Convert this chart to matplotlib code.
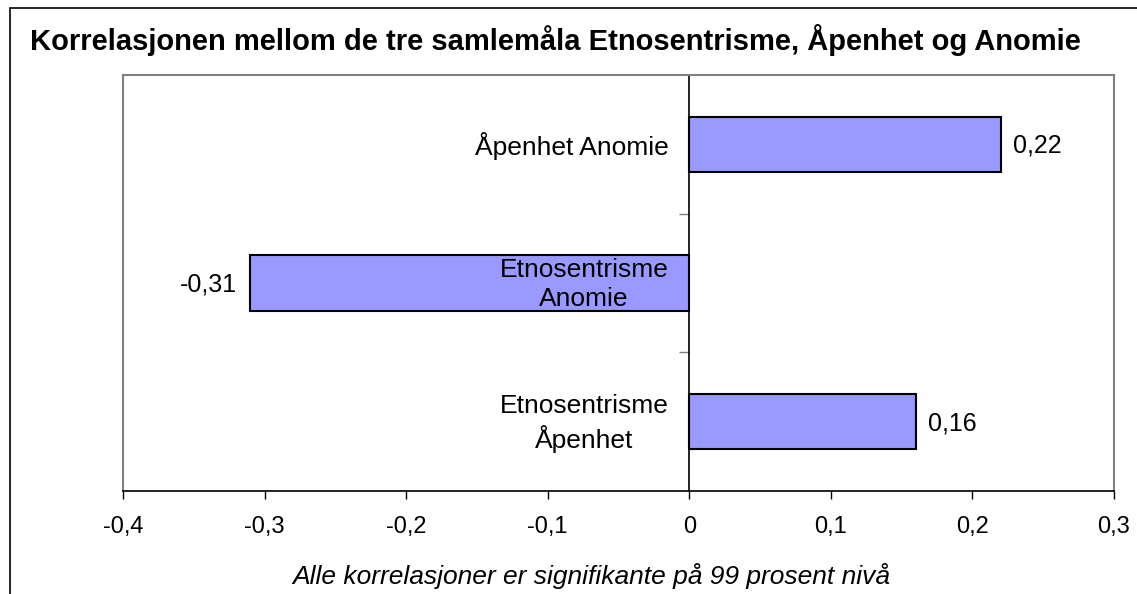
import matplotlib
matplotlib.use('Agg')
import matplotlib.pyplot as plt
from matplotlib.patches import Rectangle

plt.rcParams['font.family'] = ['Liberation Sans', 'DejaVu Sans']

# data (bottom to top)
categories = ['Etnosentrisme\nÅpenhet', 'Etnosentrisme\nAnomie', 'Åpenhet Anomie']
values = [0.16, -0.31, 0.22]
value_labels = ['0,16', '-0,31', '0,22']
xticks = [-0.4, -0.3, -0.2, -0.1, 0, 0.1, 0.2, 0.3]
xtick_labels = ['-0,4', '-0,3', '-0,2', '-0,1', '0', '0,1', '0,2', '0,3']

W, H = 1137, 594
fig = plt.figure(figsize=(W / 100, H / 100), dpi=100)

# outer frame of the chart area
fig.patches.append(Rectangle((10 / W, -0.1), 1.2, (H - 8) / H + 0.1, transform=fig.transFigure,
                             fill=False, edgecolor='black', linewidth=1.2))

fig.text(30 / W, 1 - 40 / H, 'Korrelasjonen mellom de tre samlemåla Etnosentrisme, Åpenhet og Anomie',
         fontsize=21, fontweight='bold', va='center', ha='left')

left, right, top, bottom = 123, 1114, 75, 491
ax = fig.add_axes([left / W, 1 - bottom / H, (right - left) / W, (bottom - top) / H])

y = range(len(categories))
ax.barh(y, values, height=0.4, color='#9999FF', edgecolor='black', linewidth=1.5, zorder=3)

ax.set_xlim(-0.4, 0.3)
ax.set_ylim(-0.5, 2.5)
ax.set_xticks(xticks)
ax.set_xticklabels(xtick_labels, fontsize=17)
ax.tick_params(axis='x', length=6, width=1, pad=12, color='black')

# vertical axis at zero
ax.spines['left'].set_position(('data', 0))
ax.spines['left'].set_color('black')
ax.spines['left'].set_linewidth(1.2)
ax.set_yticks([0.5, 1.5])
ax.set_yticklabels([])
ax.tick_params(axis='y', length=7, width=1, color='#808080')
for s in ['top', 'right']:
    ax.spines[s].set_color('#808080')
    ax.spines[s].set_linewidth(1.5)
ax.spines['bottom'].set_color('black')
ax.spines['bottom'].set_linewidth(1.2)
ax.plot([0, 0], [0, 1], transform=ax.transAxes, color='#808080', lw=1.5, clip_on=False, zorder=1)

for i, (cat, v, lab) in enumerate(zip(categories, values, value_labels)):
    ax.annotate(cat, (0, i), xytext=(-15, -1), textcoords='offset points',
                ha='right', va='center', multialignment='center', fontsize=19,
                linespacing=1.3, zorder=4)
    if v >= 0:
        ax.annotate(lab, (v, i), xytext=(9, -1), textcoords='offset points',
                    ha='left', va='center', fontsize=18)
    else:
        ax.annotate(lab, (v, i), xytext=(-10, -1), textcoords='offset points',
                    ha='right', va='center', fontsize=18)

fig.text(591 / W, 1 - 576 / H, 'Alle korrelasjoner er signifikante på 99 prosent nivå',
         fontsize=19, style='italic', ha='center', va='center')

fig.savefig('out.png', dpi=100)
